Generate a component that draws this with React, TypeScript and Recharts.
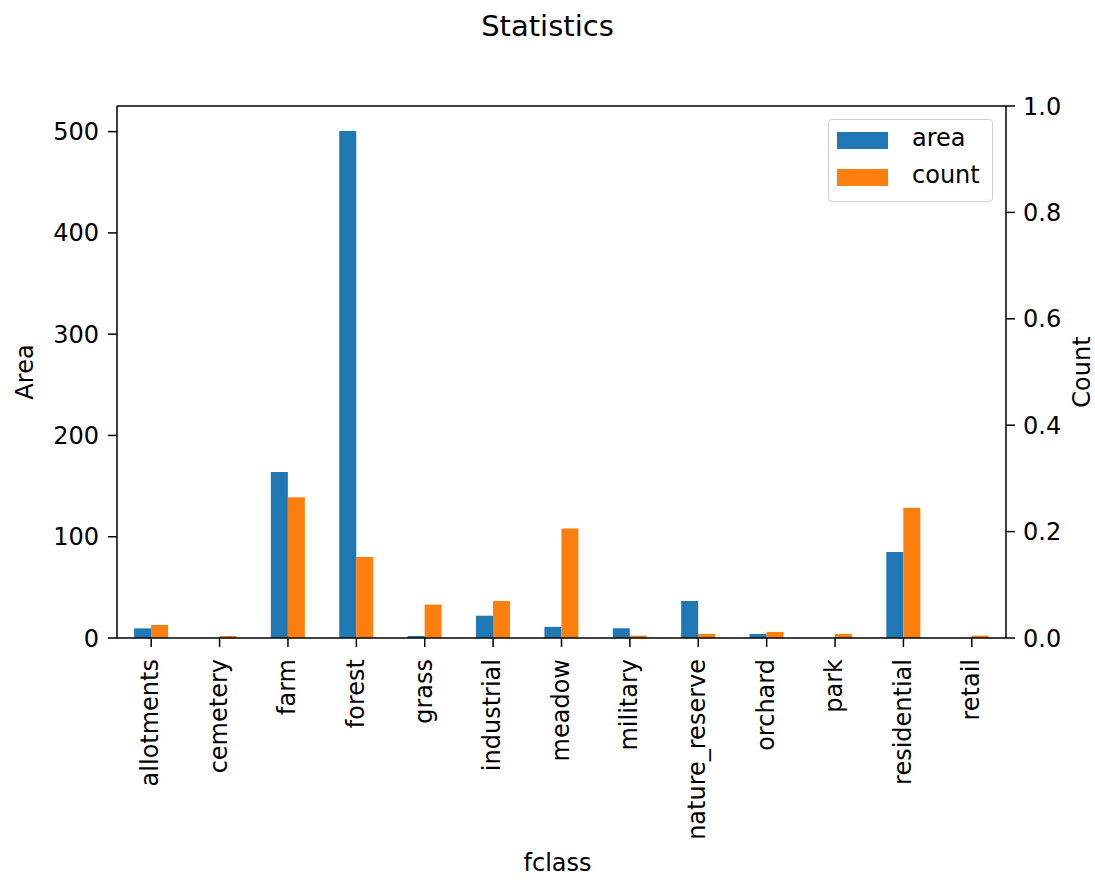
import React from 'react';
import {
  ComposedChart,
  Bar,
  Line,
  XAxis,
  YAxis,
  ReferenceLine,
} from 'recharts';

const fclasses = [
  'allotments', 'cemetery', 'farm', 'forest', 'grass', 'industrial', 'meadow',
  'military', 'nature_reserve', 'orchard', 'park', 'residential', 'retail',
];
const areaValues = [9.5, 0, 164, 500.5, 2, 22, 11, 9.6, 36.6, 4, 0, 85, 0];
const countValues = [12.9, 2, 139, 80, 33, 36.5, 108, 2.3, 4, 6, 4, 128.5, 2.3];
const areaTicks = [0, 100, 200, 300, 400, 500];
const countTicks = [0, 0.2, 0.4, 0.6, 0.8, 1.0];
const AREA_MAX = 525.3;

const data = fclasses.map((fclass, i) => ({
  fclass,
  area: areaValues[i],
  count: countValues[i],
}));

const FONT = '"DejaVu Sans", sans-serif';
const BLUE = '#1f77b4';
const ORANGE = '#ff7f0e';

const XTick = (props: any) => {
  const { x, y, payload } = props;
  return (
    <text
      x={x}
      y={y}
      transform={`rotate(-90 ${x} ${y})`}
      textAnchor="end"
      dy="0.3em"
      fontSize={24}
      fontFamily={FONT}
      fill="#000"
    >
      {payload.value}
    </text>
  );
};

const LegendBox = () => (
  <div
    style={{
      position: 'absolute',
      left: 828,
      top: 119,
      width: 163,
      height: 81,
      border: '1px solid #d0d0d0',
      borderRadius: 4,
      background: 'rgba(255,255,255,0.8)',
      fontFamily: FONT,
      fontSize: 24,
      color: '#000',
    }}
  >
    {[
      { name: 'area', color: BLUE, top: 12 },
      { name: 'count', color: ORANGE, top: 49 },
    ].map((item) => (
      <div key={item.name} style={{ position: 'absolute', left: 8, top: item.top }}>
        <span
          style={{
            position: 'absolute',
            left: 0,
            top: 0,
            width: 51,
            height: 17,
            background: item.color,
          }}
        />
        <span style={{ position: 'absolute', left: 75, top: -8, lineHeight: '28px' }}>
          {item.name}
        </span>
      </div>
    ))}
  </div>
);

export default function App() {
  return (
    <div style={{ position: 'absolute', left: 0, top: 0, width: 1095, height: 882, background: '#fff' }}>
      <ComposedChart
        width={1095}
        height={882}
        data={data}
        margin={{ top: 106, right: 0, bottom: 0, left: 0 }}
        barCategoryGap="25%"
        barGap={0}
      >
        <XAxis
          dataKey="fclass"
          height={244}
          interval={0}
          tick={<XTick />}
          tickSize={9}
          tickMargin={12}
          axisLine={{ stroke: '#000', strokeWidth: 1.5 }}
          tickLine={{ stroke: '#000', strokeWidth: 1.5 }}
        />
        <YAxis
          yAxisId="left"
          width={117}
          domain={[0, AREA_MAX]}
          ticks={areaTicks}
          allowDataOverflow
          tickSize={9}
          tickMargin={9}
          tick={{ fontSize: 24, fontFamily: FONT, fill: '#000' }}
          axisLine={{ stroke: '#000', strokeWidth: 1.5 }}
          tickLine={{ stroke: '#000', strokeWidth: 1.5 }}
        />
        <YAxis
          yAxisId="right"
          orientation="right"
          width={89}
          domain={[0, 1]}
          ticks={countTicks}
          allowDataOverflow
          tickFormatter={(v: number) => v.toFixed(1)}
          tickSize={9}
          tickMargin={8}
          tick={{ fontSize: 24, fontFamily: FONT, fill: '#000' }}
          axisLine={{ stroke: '#000', strokeWidth: 1.5 }}
          tickLine={{ stroke: '#000', strokeWidth: 1.5 }}
        />
        <Bar yAxisId="left" dataKey="area" fill={BLUE} isAnimationActive={false} />
        <Bar yAxisId="left" dataKey="count" fill={ORANGE} isAnimationActive={false} />
        <Line
          yAxisId="right"
          dataKey="count"
          stroke="none"
          strokeOpacity={0}
          dot={false}
          activeDot={false}
          legendType="none"
          isAnimationActive={false}
        />
        <ReferenceLine yAxisId="left" y={AREA_MAX} stroke="#000" strokeWidth={1.5} ifOverflow="extendDomain" />
      </ComposedChart>
      <LegendBox />
      <div style={{ position: 'absolute', left: 0, top: 9, width: 1095, textAlign: 'center', fontFamily: FONT, fontSize: 29, color: '#000' }}>
        Statistics
      </div>
      <div style={{ position: 'absolute', left: 0, top: 849, width: 1095, paddingLeft: 20, boxSizing: 'border-box', textAlign: 'center', fontFamily: FONT, fontSize: 24, color: '#000' }}>
        fclass
      </div>
      <svg style={{ position: 'absolute', left: 0, top: 0, pointerEvents: 'none' }} width={1095} height={882}>
        <text x={33} y={372} transform="rotate(-90 33 372)" textAnchor="middle" fontFamily={FONT} fontSize={24} fill="#000">
          Area
        </text>
        <text x={1090} y={372} transform="rotate(-90 1090 372)" textAnchor="middle" fontFamily={FONT} fontSize={24} fill="#000">
          Count
        </text>
      </svg>
    </div>
  );
}
